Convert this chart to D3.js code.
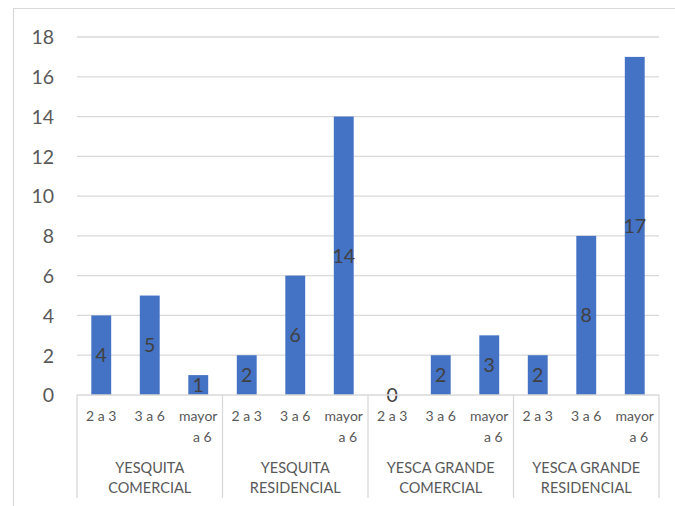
<!DOCTYPE html>
<html>
<head>
<meta charset="utf-8">
<script src="https://cdn.jsdelivr.net/npm/d3@7"></script>
<style>
  html, body { margin: 0; padding: 0; background: #fff; }
  svg { display: block; font-family: Lato, "Open Sans", sans-serif; }
</style>
</head>
<body>
<svg id="chart" width="675" height="506"></svg>
<script>
// Groups along the category axis and their sub-categories
const groups = ["YESQUITA\nCOMERCIAL", "YESQUITA\nRESIDENCIAL", "YESCA GRANDE\nCOMERCIAL", "YESCA GRANDE\nRESIDENCIAL"];
const subcategories = ["2 a 3", "3 a 6", "mayor\na 6"];
// Counts per group, in sub-category order
const values = [
  [4, 5, 1],
  [2, 6, 14],
  [0, 2, 3],
  [2, 8, 17]
];
const yTicks = [0, 2, 4, 6, 8, 10, 12, 14, 16, 18];

const svg = d3.select("#chart");
const W = 675, H = 506;
const plot = { left: 77, right: 659, top: 37, bottom: 395 };

// Flatten into one row per bar
const rows = [];
groups.forEach((g, gi) => subcategories.forEach((s, si) => {
  rows.push({ key: gi + "-" + si, group: gi, sub: s, value: values[gi][si] });
}));

const x = d3.scaleBand().domain(rows.map(d => d.key)).range([plot.left, plot.right]).paddingInner(0.59).paddingOuter(0.295);
const slot = d3.scaleBand().domain(rows.map(d => d.key)).range([plot.left, plot.right]);
const y = d3.scaleLinear().domain([0, 18]).range([plot.bottom, plot.top]);

// Outer chart frame
svg.append("path")
  .attr("d", `M13.5,${H} V8.5 H${W}`)
  .attr("fill", "none").attr("stroke", "#d9d9d9").attr("stroke-width", 1.2);

// Horizontal gridlines
svg.append("g").selectAll("line").data(yTicks.filter(t => t > 0)).join("line")
  .attr("x1", plot.left).attr("x2", plot.right)
  .attr("y1", d => y(d)).attr("y2", d => y(d))
  .attr("stroke", "#d9d9d9").attr("stroke-width", 1.3);

// Value axis labels
const yAxis = d3.axisLeft(y).tickValues(yTicks).tickSize(0).tickPadding(0);
const ya = svg.append("g").attr("transform", `translate(54,0)`).call(yAxis);
ya.select(".domain").remove();
ya.selectAll("text").attr("fill", "#595959").attr("font-size", 19.5).attr("font-family", "Lato, sans-serif").attr("dy", "0.35em");

// Bars
svg.append("g").selectAll("rect").data(rows).join("rect")
  .attr("x", d => x(d.key)).attr("width", x.bandwidth())
  .attr("y", d => y(d.value)).attr("height", d => y(0) - y(d.value))
  .attr("fill", "#4472c4");

// Data labels centred in each bar
svg.append("g").selectAll("text").data(rows).join("text")
  .attr("x", d => x(d.key) + x.bandwidth() / 2)
  .attr("y", d => (y(d.value) + y(0)) / 2)
  .attr("dy", "0.36em")
  .attr("text-anchor", "middle")
  .attr("fill", "#404040").attr("font-size", 19.5)
  .text(d => d.value);

// Category axis line and group separators
svg.append("line").attr("x1", plot.left).attr("x2", plot.right)
  .attr("y1", plot.bottom).attr("y2", plot.bottom)
  .attr("stroke", "#d9d9d9").attr("stroke-width", 1.3);
const sepX = d3.range(groups.length + 1).map(i => plot.left + i * 3 * slot.bandwidth());
svg.append("g").selectAll("line").data(sepX).join("line")
  .attr("x1", d => d).attr("x2", d => d)
  .attr("y1", plot.bottom).attr("y2", 498)
  .attr("stroke", "#d9d9d9").attr("stroke-width", 1.3);

// Sub-category labels
const subG = svg.append("g").attr("fill", "#595959").attr("font-size", 14).attr("text-anchor", "middle");
rows.forEach(d => {
  const t = subG.append("text").attr("x", slot(d.key) + slot.bandwidth() / 2).attr("y", 421);
  d.sub.split("\n").forEach((line, i) => {
    t.append("tspan").attr("x", slot(d.key) + slot.bandwidth() / 2 + (i > 0 ? 4 : 0))
      .attr("dy", i === 0 ? 0 : 21).text(line);
  });
});

// Group labels
const grpG = svg.append("g").attr("fill", "#595959").attr("font-size", 14.5).attr("text-anchor", "middle");
groups.forEach((g, gi) => {
  const cx = (sepX[gi] + sepX[gi + 1]) / 2;
  const t = grpG.append("text").attr("y", 473);
  g.split("\n").forEach((line, i) => {
    t.append("tspan").attr("x", cx).attr("dy", i === 0 ? 0 : 20).text(line);
  });
});
</script>
</body>
</html>
